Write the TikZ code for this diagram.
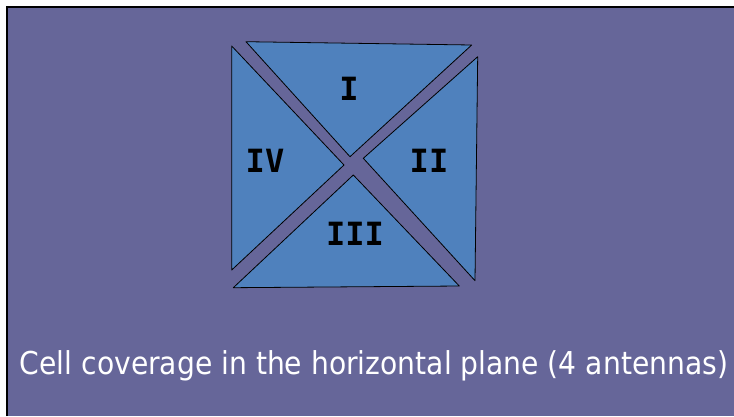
\documentclass[tikz,border=0pt]{standalone}
\usepackage{fontspec}
\setmainfont{DejaVu Sans}
\newfontfamily\numfont{DejaVu Sans Mono}
\definecolor{bgpurple}{RGB}{102,102,153}
\definecolor{secblue}{RGB}{79,129,189}
\tikzset{
  sector/.style={fill=secblue, draw=black, line width=0.8pt, line join=round},
  numlabel/.style={font=\numfont\bfseries\fontsize{32}{32}\selectfont, text=black, inner sep=0pt},
  caption/.style={text=white, inner sep=0pt, anchor=base}
}
\begin{document}
\begin{tikzpicture}[x=1pt,y=-1pt]
\useasboundingbox (0,0) rectangle (734,416);
\fill[white] (0,0) rectangle (734,416);
\fill[bgpurple] (7,7) rectangle (734,416);
\draw[black, line width=1.6pt] (7,416) -- (7,7) -- (734,7);
% sectors
\draw[sector] (246,41.7) -- (471.7,45) -- (350,156.7) -- cycle;
\draw[sector] (477.7,56.7) -- (475,280.7) -- (363.3,158.3) -- cycle;
\draw[sector] (233.3,287.7) -- (459.3,286) -- (353.3,175) -- cycle;
\draw[sector] (231.7,46) -- (231.7,270) -- (344,165) -- cycle;
% labels
\node[numlabel] (s1) at (349,89) {I};
\node[numlabel] (s2) at (429,161) {II};
\node[numlabel] (s3) at (355,234) {III};
\node[numlabel] (s4) at (265,161) {IV};
\node[caption] (cap) at (374,374) {\resizebox{708pt}{\height}{\fontsize{31.5}{31.5}\selectfont Cell coverage in the horizontal plane (4 antennas)}};
\end{tikzpicture}
\end{document}
